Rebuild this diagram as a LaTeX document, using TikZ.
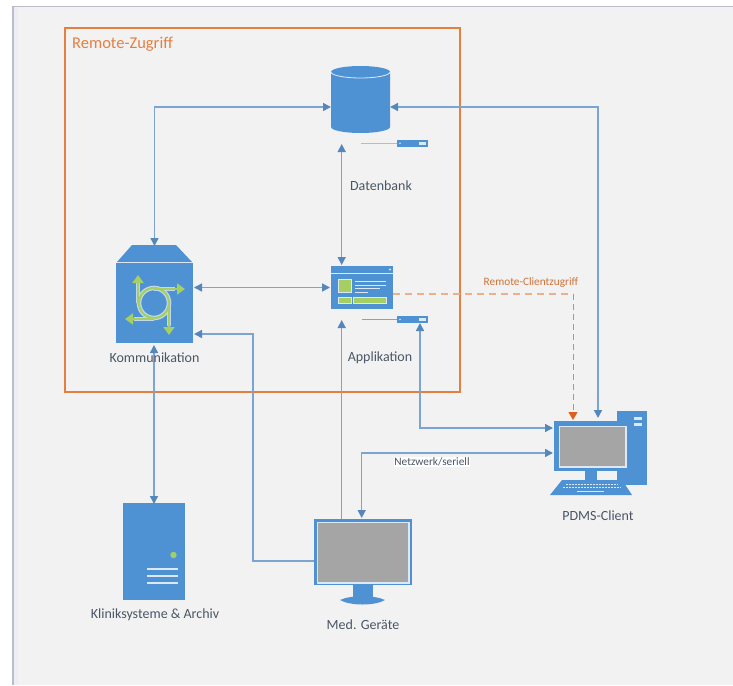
\documentclass[tikz,border=0pt]{standalone}
\usepackage{fontspec}
\setmainfont{Carlito}
\usetikzlibrary{arrows.meta}
\definecolor{iconblue}{HTML}{4F92D3}
\definecolor{linkblue}{HTML}{7BA5D0}
\definecolor{tipblue}{HTML}{5487BC}
\definecolor{remote}{HTML}{E57F3F}
\definecolor{tipred}{HTML}{DD5F1E}
\definecolor{dashor}{HTML}{EBB08C}
\definecolor{panel}{HTML}{F2F2F2}
\definecolor{panelrim}{HTML}{BCBCCC}
\definecolor{leaf}{HTML}{A5CF62}
\definecolor{pale}{HTML}{DCE9F5}
\definecolor{screen}{HTML}{A5A5A5}
\definecolor{ink}{HTML}{4A5666}
\tikzset{
  x=1pt,y=-1pt,
  iconbox/.style={fill=iconblue,draw=none,inner sep=0pt,outer sep=0pt,minimum width=#1},
  hidden/.style={inner sep=0pt,outer sep=0pt},
  link/.style={draw=linkblue,line width=1.5pt},
  both/.style={link,{Triangle[length=8pt,width=8pt,color=tipblue]}-{Triangle[length=8pt,width=8pt,color=tipblue]}},
  dashlink/.style={draw=dashor,line width=1.5pt,dash pattern=on 7pt off 5pt},
  lab/.style={font=\fontsize{14}{16}\selectfont,text=ink,inner sep=0pt},
  small/.style={font=\fontsize{11.3}{13}\selectfont,inner sep=1pt},
  petal/.style={line width=2.6pt,draw=leaf,-{Triangle[length=8pt,width=11pt,color=leaf]}},
  petalrim/.style={line width=4.6pt,draw=pale!80!iconblue},
}
\begin{document}
\begin{tikzpicture}
\useasboundingbox (0,0) rectangle (733,685);
\fill[white] (0,0) rectangle (733,685);
\fill[panelrim] (12,6) rectangle (733,685);
\fill[panel!70!pale] (13.5,7.5) rectangle (733,685);
\fill[panel] (18,7.5) rectangle (733,685);

% ---- icons as nodes
\node[hidden,minimum width=59pt,minimum height=67pt] (db) at (360.5,99.5) {};
\fill[iconblue] (331,72) arc[start angle=180,end angle=360,x radius=29.5,y radius=6] -- (390,127)
  arc[start angle=0,end angle=180,x radius=29.5,y radius=6] -- cycle;
\draw[pale,line width=0.8pt] (331,72) arc[start angle=180,end angle=0,x radius=29.5,y radius=6];

\node[hidden,minimum width=77pt,minimum height=98pt] (komm) at (154.5,294) {};
\fill[iconblue] (116,263) rectangle (193,343);
\fill[iconblue] (117,262) -- (132,245) -- (176,245) -- (192,262) -- cycle;
\draw[petalrim] (154,303) circle[radius=15];
\draw[petalrim] (138,303) -- (138,282);
\draw[petalrim] (154,289) -- (175,289);
\draw[petalrim] (169,303) -- (169,326);
\draw[petalrim] (154,319) -- (134,319);
\draw[line width=2.2pt,leaf] (154,303) circle[radius=15];
\draw[petal] (138,303) -- (138,275);
\draw[petal] (154,289) -- (185,289);
\draw[petal] (169,303) -- (169,335);
\draw[petal] (154,319) -- (125,319);

\node[iconbox=62pt,minimum height=43pt] (app) at (362,287.5) {};
\draw[pale,line width=0.7pt] (331,273) -- (393,273);
\fill[pale] (390,269.5) circle[radius=1.2];
\fill[leaf,draw=pale,line width=0.5pt] (338,279) rectangle (351,292);
\foreach \yy/\xx in {281/386,285/386,288/380,292/368}
  \draw[pale,line width=0.9pt] (355,\yy) -- (\xx,\yy);
\fill[leaf,draw=pale,line width=0.5pt] (338,297) rectangle (351,303);
\fill[leaf,draw=pale,line width=0.5pt] (353,297) rectangle (386,303);

\node[iconbox=31pt,minimum height=7.5pt] (srvA) at (412.5,143.3) {};
\node[iconbox=31pt,minimum height=7pt] (srvB) at (412.5,319.5) {};
\coordinate (srvAend) at (361,143.3);
\coordinate (srvBend) at (362,319.5);
\foreach \n/\yy in {A/143.3,B/319.5}{
  \fill[pale] (400,\yy) circle[radius=0.9];
  \fill[pale] (419,\yy-1.5) rectangle (426,\yy+1.5);
}

\node[iconbox=62pt,minimum height=97pt] (klinik) at (154,551.5) {};
\foreach \yy in {569,576,583} \draw[pale,line width=1.3pt] (147,\yy) -- (178,\yy);
\fill[leaf] (173.5,555) circle[radius=3.2];

\node[hidden,fill=iconblue,minimum width=98pt,minimum height=66pt] (med) at (363,552) {};
\fill[pale] (316.5,521.5) rectangle (409.5,583.5);
\fill[screen] (318,523) rectangle (408,582);
\fill[iconblue] (353,585) rectangle (373,597);
\fill[iconblue] (340,600) .. controls (350,595) and (375,595) .. (385,600) .. controls (375,606) and (350,606) .. (340,600) -- cycle;

% PC
\fill[iconblue] (617,411) rectangle (647,485);
\fill[pale] (634,416.5) rectangle (642,420);
\fill[pale] (634,422.5) rectangle (642,426);
\node[hidden,fill=iconblue,minimum width=76pt,minimum height=50pt] (pc) at (592,446) {};
\fill[pale] (558.5,425.5) rectangle (626.5,467.5);
\fill[screen] (560,427) rectangle (625,466);
\fill[iconblue] (585,471) rectangle (597,480);
\fill[iconblue] (562,480) -- (622,480) -- (632,495) -- (550,495) -- cycle;
\foreach \yy/\a/\b in {484/566/618,487.5/563/621}
  \draw[pale,line width=1pt,dash pattern=on 2pt off 1pt] (\a,\yy) -- (\b,\yy);
\draw[pale,line width=1.5pt] (577,491.5) -- (604,491.5);

% ---- frame
\node[draw=remote,line width=1.5pt,minimum width=395pt,minimum height=364pt,hidden] (frame) at (262.5,210) {};
\node[font=\fontsize{16.5}{19}\selectfont,text=remote,inner sep=0pt,anchor=west] (frameLab) at (72,44) {Remote-Zugriff};

% ---- small servers' leads
\draw[draw=linkblue!70!white,line width=1pt] (srvAend) -- (srvA.west);
\draw[draw=linkblue,line width=1pt] (srvBend) -- (srvB.west);

% ---- connectors
\coordinate (dbin) at ([yshift=-7.5pt]db.west);
\coordinate (dbout) at ([yshift=-7.5pt]db.east);
\draw[both] (dbin) -| ([yshift=-1pt]komm.north);
\coordinate (pcTop) at (598,418);
\draw[both] (dbout) -| (pcTop);
\coordinate (dbBelow) at (341.7,144);
\coordinate (appAbove) at (341.7,265);
\draw[both] (dbBelow) -- (appAbove);
\draw[both] ([xshift=1pt]komm.east |- app.west) -- ([xshift=-1pt]app.west);
\coordinate (kommS) at (154,345);
\draw[both] (kommS) -- ([yshift=-1pt]klinik.north);
% Med. devices to the communication box
\coordinate (kommE) at (194,334);
\coordinate (medW) at (314,561);
\coordinate (elbow) at (253,561);
\draw[link,{Triangle[length=8pt,width=8pt,color=tipblue]}-] (kommE) -| (elbow) -- (medW);
% Med. devices to the application
\coordinate (medTop) at (341.7,519);
\coordinate (appBelow) at (341.7,320);
\draw[link,-{Triangle[length=8pt,width=8pt,color=tipblue]}] (medTop) -- (appBelow);
% Application server to client
\coordinate (srvBd) at (420,323);
\coordinate (pcIn) at (553,428);
\draw[both] (srvBd) |- (pcIn);
% Network link
\coordinate (medIn) at (361.7,518);
\coordinate (pcInB) at (553,453);
\draw[both] (medIn) |- (pcInB);
% Remote client access
\coordinate (pcRemote) at (573,420);
\draw[dashlink] (app.east |- 0,294) -- (573,294);
\draw[draw=remote!85!dashor,line width=1pt,-{Triangle[length=8pt,width=9pt,color=tipred]},dash pattern=on 6pt off 4pt] (573,294) -- (pcRemote);

% ---- labels
\node[lab] (lDB) at (381,186) {Datenbank};
\node[lab] (lK) at (154.5,358) {Kommunikation};
\node[lab] (lA) at (380,358) {Applikation};
\node[lab] (lKl) at (155,615) {Kliniksysteme \& Archiv};
\node[lab] (lM) at (363,625) {Med. Geräte};
\node[lab] (lP) at (598,516) {PDMS-Client};
\node[small,text=remote!90!black] (lR) at (531,283) {Remote-Clientzugriff};
\node[small,text=ink,fill=white,inner sep=0.5pt] (lN) at (432,462) {Netzwerk/seriell};
\end{tikzpicture}
\end{document}
